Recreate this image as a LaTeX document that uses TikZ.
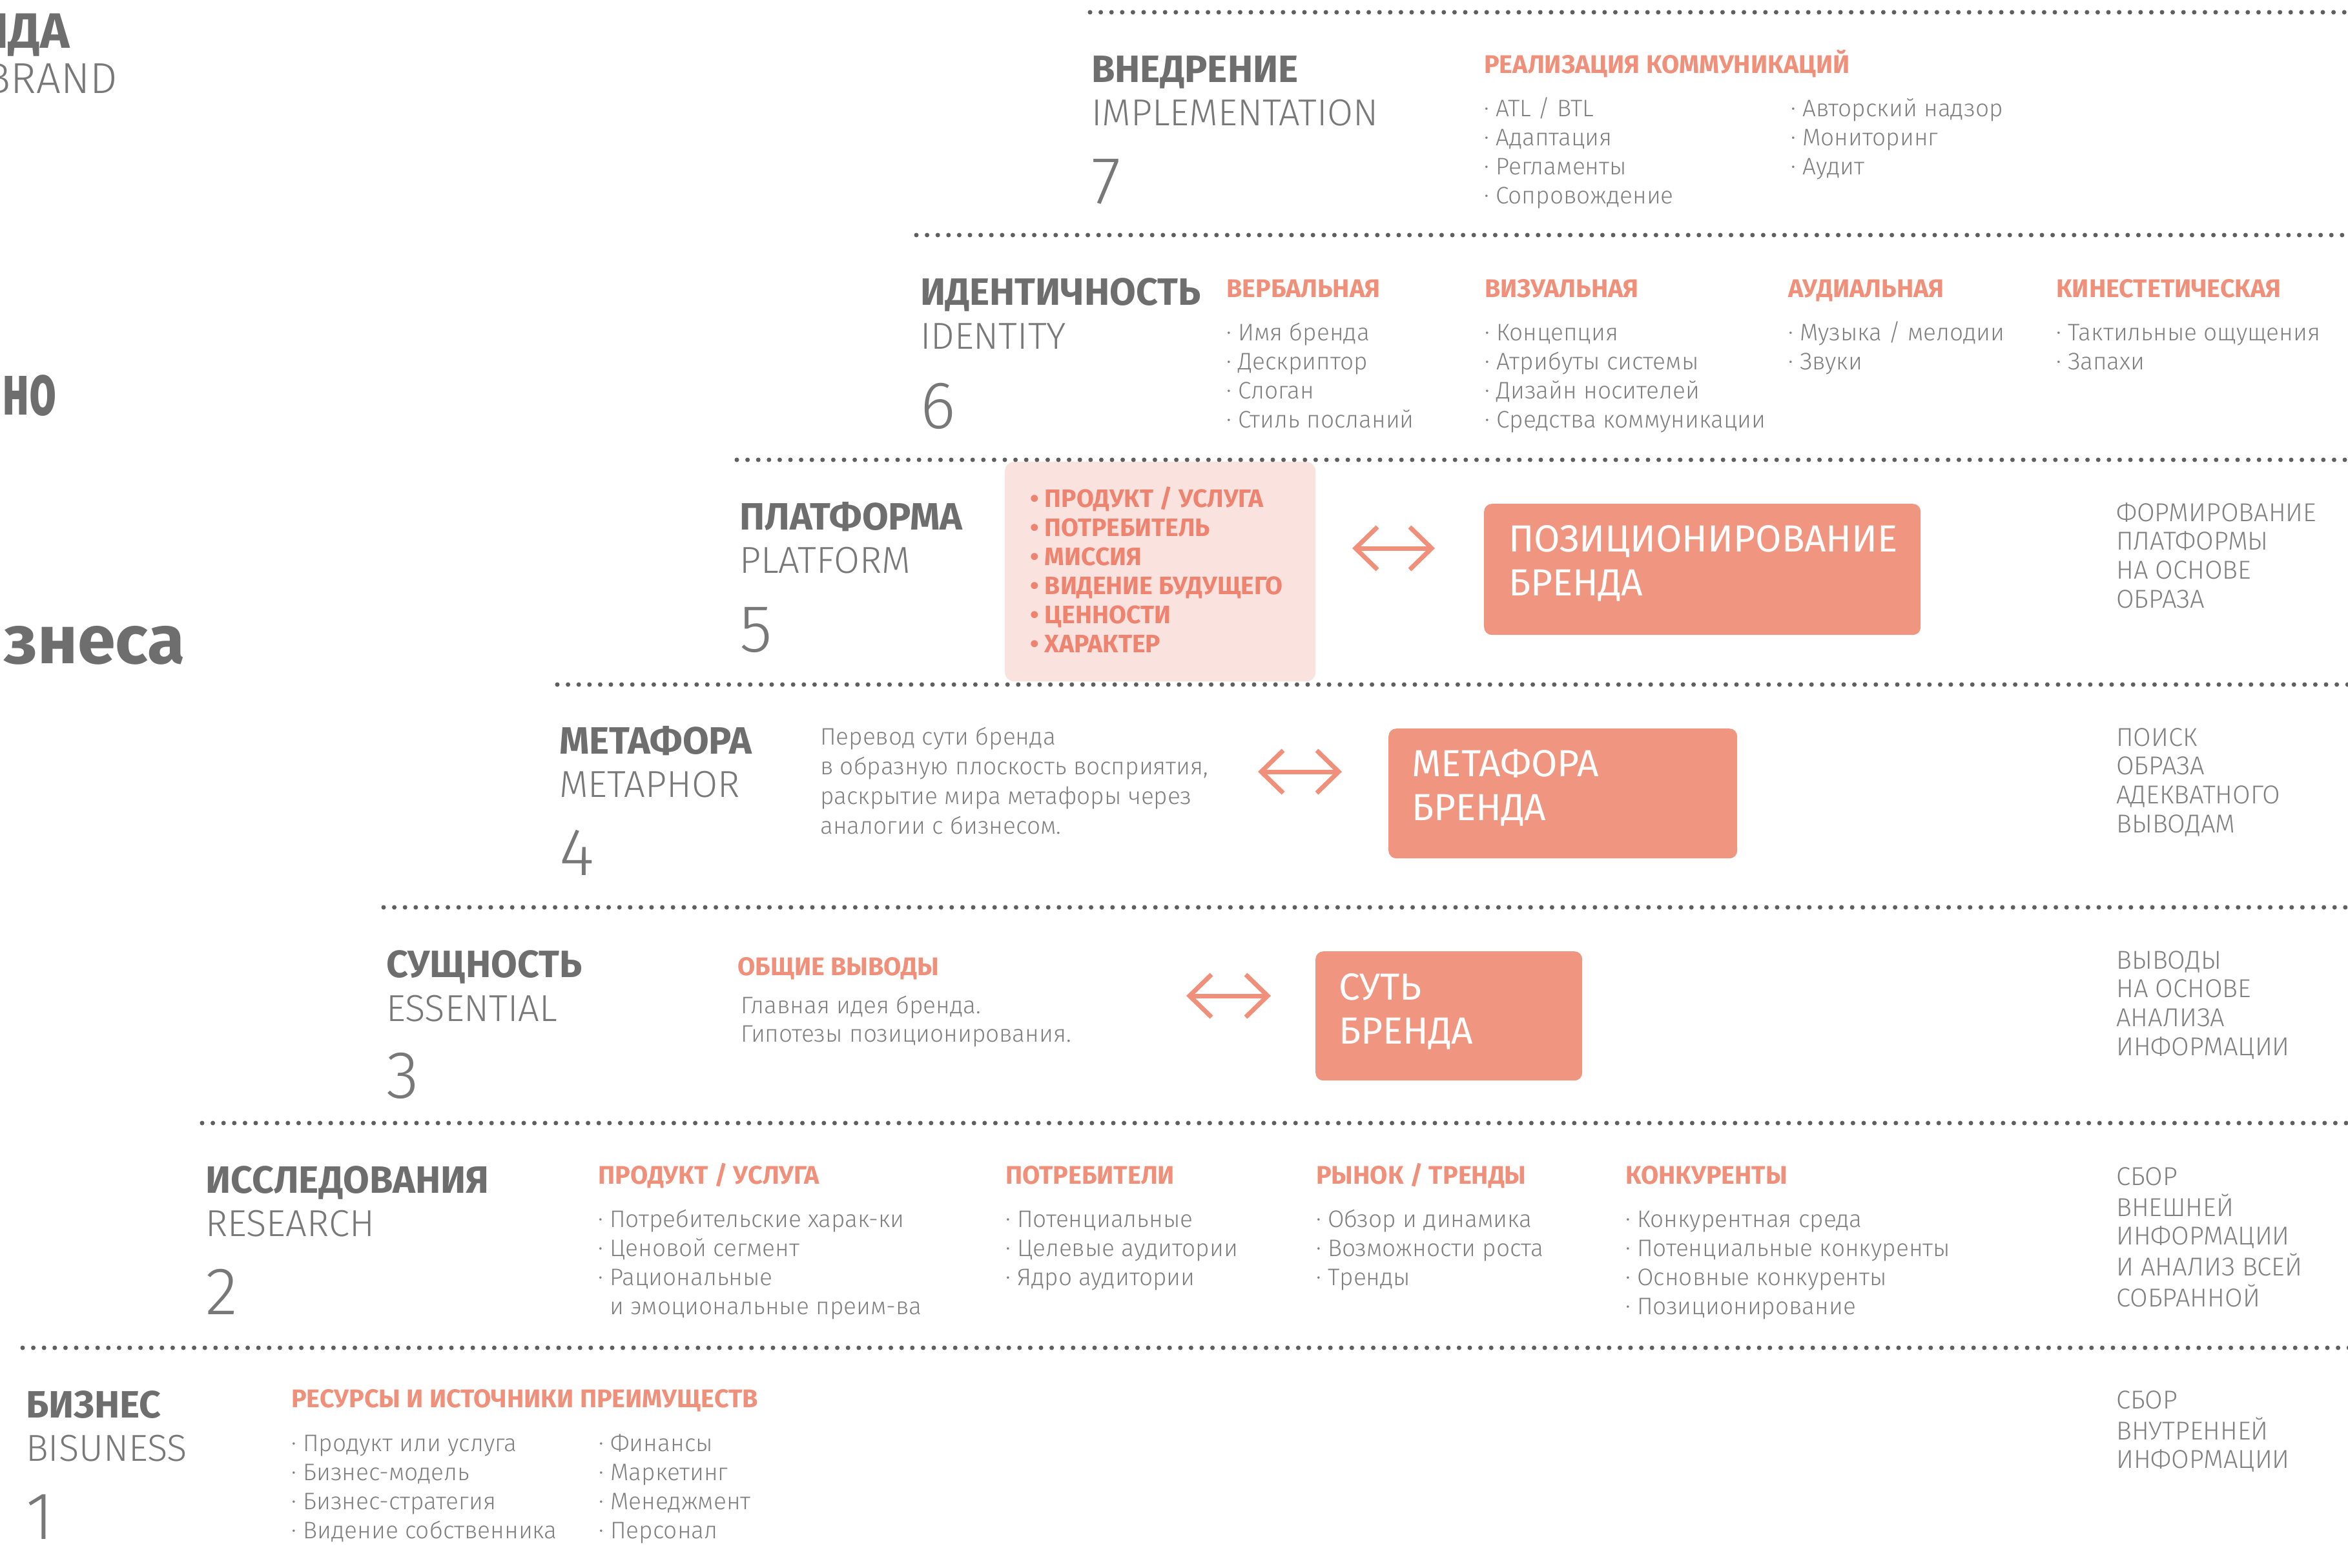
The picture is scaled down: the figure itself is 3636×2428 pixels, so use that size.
\documentclass[tikz,border=0pt]{standalone}
\usepackage{fontspec}
\setmainfont{Fira Sans}
\suppressfontnotfounderror=1
\font\testlightfont="Fira Sans Light" at 10pt
\ifx\testlightfont\nullfont
  \newfontfamily\LightF{Fira Sans}
\else
  \newfontfamily\LightF{Fira Sans Light}
\fi
\suppressfontnotfounderror=0
\usetikzlibrary{arrows.meta}
\definecolor{dotgray}{HTML}{5F5F5F}
\definecolor{headgray}{HTML}{6E6E6E}
\definecolor{enggray}{HTML}{787878}
\definecolor{txtgray}{HTML}{808080}
\definecolor{salmon}{HTML}{F0907A}
\definecolor{salmondark}{HTML}{EE8470}
\definecolor{boxfill}{HTML}{F0957F}
\definecolor{pinkbg}{HTML}{FAE2DF}
\newcommand\Lns[1]{\begin{tabular}[t]{@{}l@{}}#1\end{tabular}}
\tikzset{
  dotline/.style={draw=dotgray, line width=7pt, line cap=round, dash pattern=on 0pt off 16.6pt},
  head/.style={font=\bfseries\fontsize{59}{59}\selectfont, text=headgray, anchor=base west, inner sep=0pt},
  eng/.style={font=\LightF\fontsize{58}{58}\selectfont, text=enggray, anchor=base west, inner sep=0pt},
  num/.style={font=\LightF\fontsize{104}{104}\selectfont, text=enggray, anchor=base west, inner sep=0pt},
  redhead/.style={font=\bfseries\fontsize{39.5}{39.5}\selectfont, text=salmon, anchor=base west, inner sep=0pt},
  items/.style={font=\LightF\fontsize{37}{45}\selectfont, text=txtgray, anchor=base west, inner sep=0pt},
  side/.style={font=\LightF\fontsize{40}{44.7}\selectfont, text=txtgray, anchor=base west, inner sep=0pt},
  bigbox/.style={fill=boxfill, rounded corners=12pt, draw=none, inner sep=0pt, anchor=north west},
  boxtext/.style={font=\fontsize{58.5}{68}\selectfont, text=white, anchor=base west, inner sep=0pt},
  pinklist/.style={font=\bfseries\fontsize{39}{45}\selectfont, text=salmondark, anchor=base west, inner sep=0pt},
  frag/.style={font=\bfseries\selectfont, text=headgray, anchor=base east, inner sep=0pt},
  twoway/.style={draw=salmon, line width=7pt, {Straight Barb[length=34pt,width=66pt]}-{Straight Barb[length=34pt,width=66pt]}},
}
\begin{document}
\begin{tikzpicture}[x=1pt,y=-1pt]
\useasboundingbox (0,0) rectangle (3636,2428);
\fill[white] (0,0) rectangle (3636,2428);
\clip (0,0) rectangle (3636,2428);

% fragments of larger words, cut by the left edge
\node[frag, font=\bfseries\fontsize{77}{77}\selectfont] (fA) at (108,74) {НДА};
\node[frag, font=\LightF\fontsize{67}{67}\selectfont, text=enggray] (fB) at (182,144) {BRAND};
\node[frag, font=\bfseries\fontsize{113}{113}\selectfont] (fC) at (88,642) {\scalebox{0.64}[1]{но}};
\node[frag, font=\bfseries\fontsize{106}{106}\selectfont] (fD) at (287,1027) {изнеса};

% pink background of platform list
\node[fill=pinkbg, rounded corners=14pt, inner sep=0pt, anchor=north west, minimum width=481pt, minimum height=340pt] (pink) at (1556,715) {};

% dotted separators
\coordinate (d7s) at (1688,19);  \coordinate (d7e) at (3640,19);
\coordinate (d6s) at (1419,364); \coordinate (d6e) at (3640,364);
\coordinate (d5s) at (1141,712); \coordinate (d5e) at (3640,712);
\coordinate (d4s) at (863,1060); \coordinate (d4e) at (3640,1060);
\coordinate (d3s) at (594,1405); \coordinate (d3e) at (3640,1405);
\coordinate (d2s) at (313,1739); \coordinate (d2e) at (3640,1739);
\coordinate (d1s) at (35,2087);  \coordinate (d1e) at (3640,2087);
\foreach \k in {7,6,5,4,3,2,1} \draw[dotline] (d\k s) -- (d\k e);

% section 7
\node[head] (h7) at (1690,127) {ВНЕДРЕНИЕ};
\node[eng] (e7) at (1690,194) {IMPLEMENTATION};
\node[num] (n7) at (1690,315) {7};
\node[redhead] (r7) at (2298,113) {РЕАЛИЗАЦИЯ КОММУНИКАЦИЙ};
\node[items] (i7a) at (2298,180) {\Lns{· ATL / BTL\\· Адаптация\\· Регламенты\\· Сопровождение}};
\node[items] (i7b) at (2773,180) {\Lns{· Авторский надзор\\· Мониторинг\\· Аудит}};

% section 6
\node[head] (h6) at (1425,472) {ИДЕНТИЧНОСТЬ};
\node[eng] (e6) at (1425,540) {IDENTITY};
\node[num] (n6) at (1425,663) {6};
\node[redhead] (r6a) at (1899,460) {ВЕРБАЛЬНАЯ};
\node[redhead] (r6b) at (2299,460) {ВИЗУАЛЬНАЯ};
\node[redhead] (r6c) at (2769,460) {АУДИАЛЬНАЯ};
\node[redhead] (r6d) at (3184,460) {КИНЕСТЕТИЧЕСКАЯ};
\node[items] (i6a) at (1899,527) {\Lns{· Имя бренда\\· Дескриптор\\· Слоган\\· Стиль посланий}};
\node[items] (i6b) at (2299,527) {\Lns{· Концепция\\· Атрибуты системы\\· Дизайн носителей\\· Средства коммуникации}};
\node[items] (i6c) at (2769,527) {\Lns{· Музыка / мелодии\\· Звуки}};
\node[items] (i6d) at (3184,527) {\Lns{· Тактильные ощущения\\· Запахи}};

% section 5
\node[head] (h5) at (1145,820) {ПЛАТФОРМА};
\node[eng] (e5) at (1145,887) {PLATFORM};
\node[num] (n5) at (1145,1009) {5};
\node[pinklist] (pl) at (1595,785) {\Lns{• ПРОДУКТ / УСЛУГА\\• ПОТРЕБИТЕЛЬ\\• МИССИЯ\\• ВИДЕНИЕ БУДУЩЕГО\\• ЦЕННОСТИ\\• ХАРАКТЕР}};
\node[bigbox, minimum width=676pt, minimum height=203pt] (b5) at (2298,780) {};
\node[boxtext] (t5) at (2336,854) {\Lns{ПОЗИЦИОНИРОВАНИЕ\\БРЕНДА}};
\coordinate (a5l) at (2094,849); \coordinate (a5r) at (2222,849);
\draw[twoway] (a5l) -- (a5r);
\node[side] (s5) at (3277,807) {\Lns{ФОРМИРОВАНИЕ\\ПЛАТФОРМЫ\\НА ОСНОВЕ\\ОБРАЗА}};

% section 4
\node[head] (h4) at (866,1167) {МЕТАФОРА};
\node[eng] (e4) at (866,1234) {METAPHOR};
\node[num] (n4) at (866,1355) {4};
\node[items, font=\LightF\fontsize{37}{46}\selectfont] (i4) at (1270,1153) {\Lns{Перевод сути бренда\\в образную плоскость восприятия,\\раскрытие мира метафоры через\\аналогии с бизнесом.}};
\node[bigbox, minimum width=540pt, minimum height=201pt] (b4) at (2150,1128) {};
\node[boxtext] (t4) at (2186,1202) {\Lns{МЕТАФОРА\\БРЕНДА}};
\coordinate (a4l) at (1948,1195); \coordinate (a4r) at (2078,1195);
\draw[twoway] (a4l) -- (a4r);
\node[side] (s4) at (3277,1155) {\Lns{ПОИСК\\ОБРАЗА\\АДЕКВАТНОГО\\ВЫВОДАМ}};

% section 3
\node[head] (h3) at (598,1513) {СУЩНОСТЬ};
\node[eng] (e3) at (598,1581) {ESSENTIAL};
\node[num] (n3) at (598,1700) {3};
\node[redhead] (r3) at (1142,1510) {ОБЩИЕ ВЫВОДЫ};
\node[items, font=\LightF\fontsize{37}{44}\selectfont] (i3) at (1147,1569) {\Lns{Главная идея бренда.\\Гипотезы позиционирования.}};
\node[bigbox, minimum width=413pt, minimum height=200pt] (b3) at (2037,1473) {};
\node[boxtext] (t3) at (2073,1548) {\Lns{СУТЬ\\БРЕНДА}};
\coordinate (a3l) at (1837,1542); \coordinate (a3r) at (1968,1542);
\draw[twoway] (a3l) -- (a3r);
\node[side] (s3) at (3277,1500) {\Lns{ВЫВОДЫ\\НА ОСНОВЕ\\АНАЛИЗА\\ИНФОРМАЦИИ}};

% section 2
\node[head] (h2) at (318,1847) {ИССЛЕДОВАНИЯ};
\node[eng] (e2) at (318,1914) {RESEARCH};
\node[num] (n2) at (318,2035) {2};
\node[redhead] (r2a) at (926,1833) {ПРОДУКТ / УСЛУГА};
\node[redhead] (r2b) at (1557,1833) {ПОТРЕБИТЕЛИ};
\node[redhead] (r2c) at (2038,1833) {РЫНОК / ТРЕНДЫ};
\node[redhead] (r2d) at (2517,1833) {КОНКУРЕНТЫ};
\node[items] (i2a) at (926,1900) {\Lns{· Потребительские харак-ки\\· Ценовой сегмент\\· Рациональные\\\phantom{· }и эмоциональные преим-ва}};
\node[items] (i2b) at (1557,1900) {\Lns{· Потенциальные\\· Целевые аудитории\\· Ядро аудитории}};
\node[items] (i2c) at (2038,1900) {\Lns{· Обзор и динамика\\· Возможности роста\\· Тренды}};
\node[items] (i2d) at (2517,1900) {\Lns{· Конкурентная среда\\· Потенциальные конкуренты\\· Основные конкуренты\\· Позиционирование}};
\node[side] (s2) at (3277,1835) {\Lns{СБОР\\ВНЕШНЕЙ\\ИНФОРМАЦИИ\\И АНАЛИЗ ВСЕЙ\\СОБРАННОЙ}};

% section 1
\node[head] (h1) at (40,2195) {БИЗНЕС};
\node[eng] (e1) at (40,2262) {BISUNESS};
\node[num] (n1) at (40,2383) {1};
\node[redhead] (r1) at (451,2179) {РЕСУРСЫ И ИСТОЧНИКИ ПРЕИМУЩЕСТВ};
\node[items] (i1a) at (451,2247) {\Lns{· Продукт или услуга\\· Бизнес-модель\\· Бизнес-стратегия\\· Видение собственника}};
\node[items] (i1b) at (927,2247) {\Lns{· Финансы\\· Маркетинг\\· Менеджмент\\· Персонал}};
\node[side] (s1) at (3277,2181) {\Lns{СБОР\\ВНУТРЕННЕЙ\\ИНФОРМАЦИИ}};
\end{tikzpicture}
\end{document}
